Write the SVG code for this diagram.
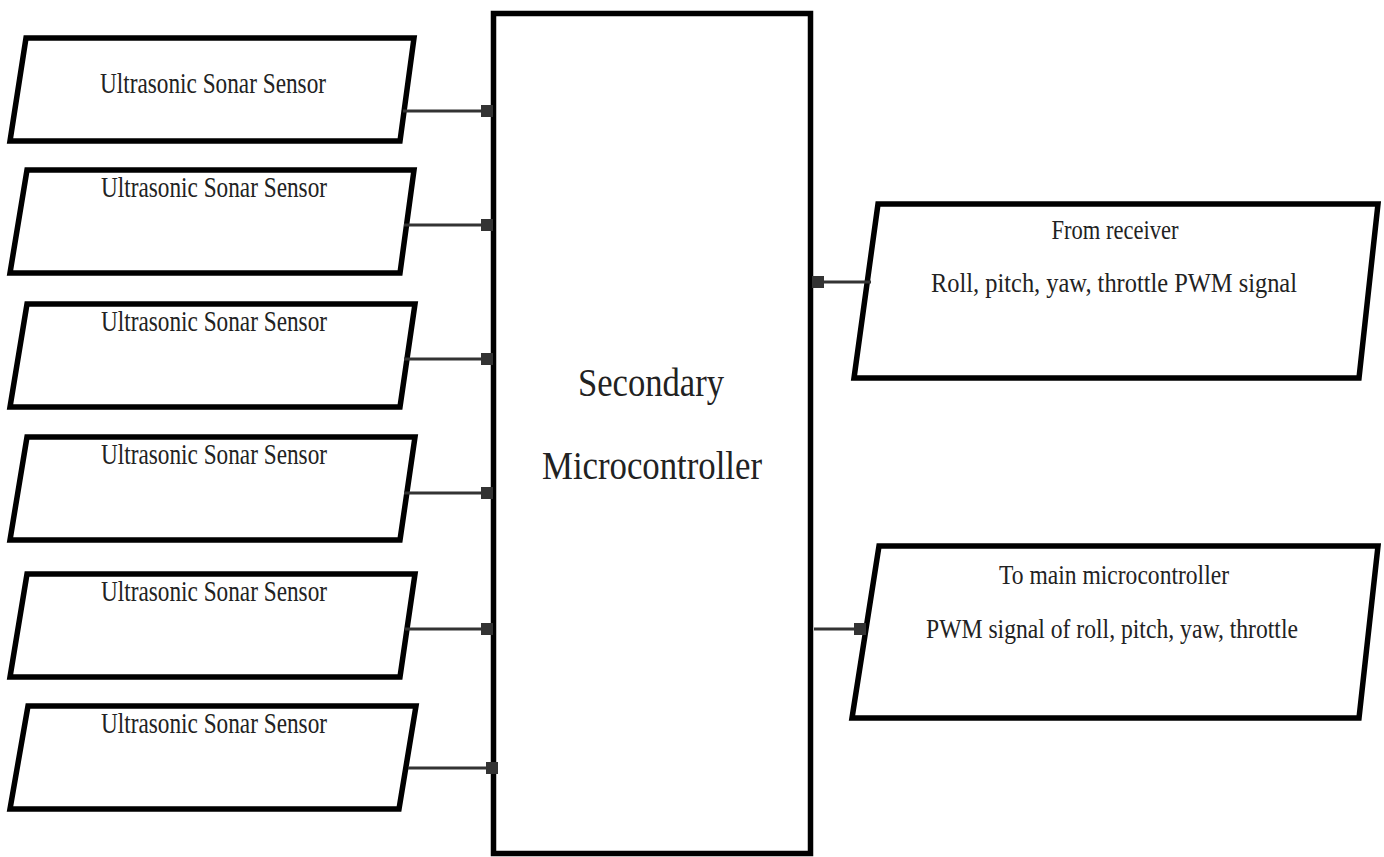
<svg xmlns="http://www.w3.org/2000/svg" width="1384" height="857" viewBox="0 0 1384 857">
<style>
.box{fill:#fff;stroke:#000;stroke-width:5.5;stroke-linejoin:miter}
.conn{stroke:#333;stroke-width:3;fill:none}
.t{font-family:"Liberation Serif","Times New Roman",serif;fill:#222;text-anchor:middle}
.s{font-size:29px}
.r{font-size:27px}
.m{font-size:40px}
</style>
<defs>
<marker id="sq" markerWidth="4" markerHeight="4" refX="2" refY="2" markerUnits="strokeWidth" orient="auto">
<rect x="0" y="0" width="4" height="4" fill="#333"/>
</marker>
</defs>
<rect width="1384" height="857" fill="#fff"/>
<g id="main">
<rect class="box" x="493.5" y="13.5" width="317" height="840"/>
<text class="t m" x="651" y="396" textLength="146" lengthAdjust="spacingAndGlyphs">Secondary</text>
<text class="t m" x="652" y="479" textLength="220" lengthAdjust="spacingAndGlyphs">Microcontroller</text>
</g>
<g id="sensor1">
<polygon class="box" points="26,38 414,38 400,141 10,141"/>
<text class="t s" x="213" y="93" textLength="226" lengthAdjust="spacingAndGlyphs">Ultrasonic Sonar Sensor</text>
</g>
<g id="sensor2">
<polygon class="box" points="27,170 414,170 400,273 10,273"/>
<text class="t s" x="214" y="197" textLength="226" lengthAdjust="spacingAndGlyphs">Ultrasonic Sonar Sensor</text>
</g>
<g id="sensor3">
<polygon class="box" points="27,304 415,304 400,407 10,407"/>
<text class="t s" x="214" y="331" textLength="226" lengthAdjust="spacingAndGlyphs">Ultrasonic Sonar Sensor</text>
</g>
<g id="sensor4">
<polygon class="box" points="27,437 415,437 400,540 10,540"/>
<text class="t s" x="214" y="464" textLength="226" lengthAdjust="spacingAndGlyphs">Ultrasonic Sonar Sensor</text>
</g>
<g id="sensor5">
<polygon class="box" points="27,574 415,574 400,677 10,677"/>
<text class="t s" x="214" y="601" textLength="226" lengthAdjust="spacingAndGlyphs">Ultrasonic Sonar Sensor</text>
</g>
<g id="sensor6">
<polygon class="box" points="28,706 416,706 399,809 10,809"/>
<text class="t s" x="214" y="733" textLength="226" lengthAdjust="spacingAndGlyphs">Ultrasonic Sonar Sensor</text>
</g>
<g id="receiver">
<polygon class="box" points="878,204 1378,204 1359,378 854,378"/>
<text class="t r" x="1115" y="239" textLength="127" lengthAdjust="spacingAndGlyphs">From receiver</text>
<text class="t r" x="1114" y="292" textLength="366" lengthAdjust="spacingAndGlyphs">Roll, pitch, yaw, throttle PWM signal</text>
</g>
<g id="to_main">
<polygon class="box" points="879,546 1378,546 1359,718 852,718"/>
<text class="t r" x="1114" y="584" textLength="230" lengthAdjust="spacingAndGlyphs">To main microcontroller</text>
<text class="t r" x="1112" y="638" textLength="372" lengthAdjust="spacingAndGlyphs">PWM signal of roll, pitch, yaw, throttle</text>
</g>
<g id="connectors">
<line class="conn" x1="403" y1="111" x2="487" y2="111" marker-end="url(#sq)"/>
<line class="conn" x1="404" y1="225" x2="487" y2="225" marker-end="url(#sq)"/>
<line class="conn" x1="404" y1="359" x2="487" y2="359" marker-end="url(#sq)"/>
<line class="conn" x1="404" y1="493" x2="487" y2="493" marker-end="url(#sq)"/>
<line class="conn" x1="405" y1="629" x2="487" y2="629" marker-end="url(#sq)"/>
<line class="conn" x1="408" y1="768" x2="492" y2="768" marker-end="url(#sq)"/>
<line class="conn" x1="871" y1="282" x2="818" y2="282" marker-end="url(#sq)"/>
<line class="conn" x1="814" y1="629" x2="860" y2="629" marker-end="url(#sq)"/>
</g>
</svg>
